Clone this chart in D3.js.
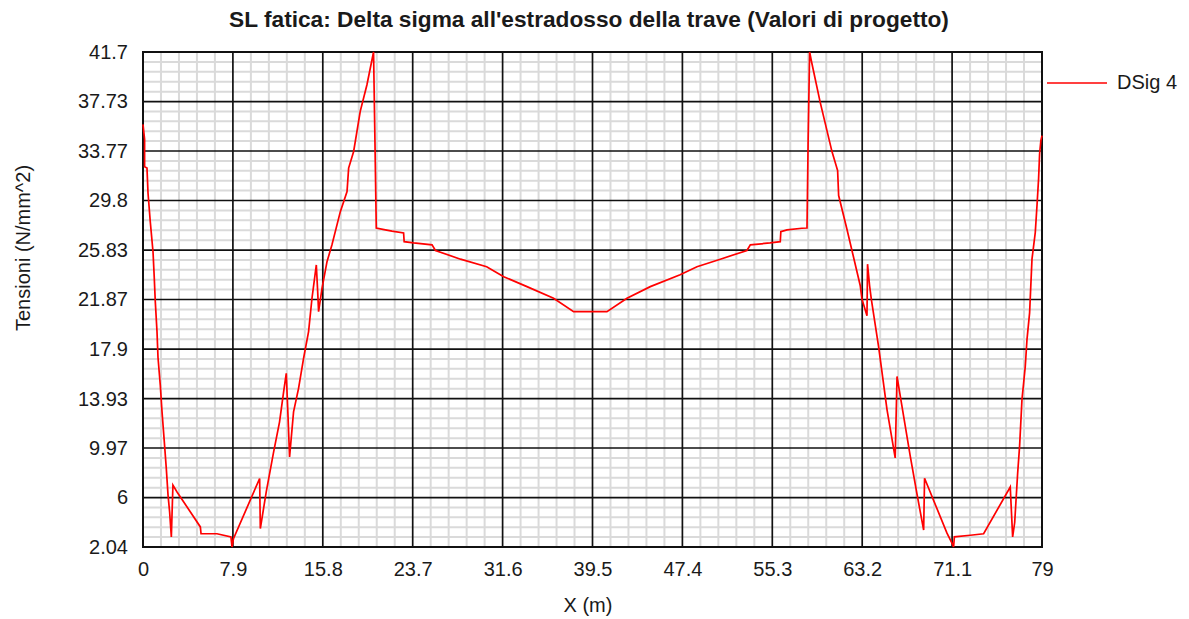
<!DOCTYPE html>
<html>
<head>
<meta charset="utf-8">
<script src="https://cdn.jsdelivr.net/npm/d3@7"></script>
<style>
  body { margin: 0; background: #fff; }
  text { font-family: "Liberation Sans", Arial, sans-serif; fill: #1a1a1a; }
</style>
</head>
<body>
<div id="chart"></div>
<script>
// values
var xTicks = [0, 7.9, 15.8, 23.7, 31.6, 39.5, 47.4, 55.3, 63.2, 71.1, 79];
var yTicks = [2.04, 6, 9.97, 13.93, 17.9, 21.87, 25.83, 29.8, 33.77, 37.73, 41.7];

var xPos = [0, 0.14, 0.14, 0.35, 0.44, 0.64, 0.88, 0.99, 1.08, 1.23, 1.32, 1.52, 1.67, 1.87, 2.05, 2.2, 2.34, 2.49,
  2.63, 2.99, 5.04, 5.1, 6.5, 7.73, 7.82, 7.95, 10.25, 10.31, 10.83, 11.48, 12.0, 12.36, 12.59, 12.74, 12.88,
  13.23, 13.67, 14.11, 14.55, 14.85, 15.23, 15.35, 15.43, 15.73, 16.17, 16.6, 17.34, 17.93, 18.07, 18.51, 19.09,
  19.68, 20.26, 20.38, 20.5, 21.3, 21.88, 22.9, 22.95, 23.78, 25.4, 25.7, 27.9, 30.2, 31.7, 33.74, 36.08, 37.84,
  40.77, 42.53, 44.58, 47.2, 48.68, 50.73, 53.07, 53.37, 55.1, 56.0, 56.05, 56.59, 57.9, 58.35, 58.45, 58.58,
  58.73, 59.5, 60.55, 61.04, 61.13, 61.86, 62.3, 63.03, 63.18, 63.62, 63.67, 63.85, 64.0, 64.64, 65.38, 66.1,
  66.26, 66.55, 67.43, 68.0, 68.6, 68.68, 70.65, 71.09, 71.23, 71.3, 72.7, 73.87, 76.21, 76.42, 76.6, 76.86,
  77.03, 77.24, 77.53, 77.68, 77.91, 78.12, 78.41, 78.56, 78.7, 78.79, 78.9, 79];
var dsig4 = [35.9, 34.7, 32.5, 32.4, 30.4, 28.1, 25.7, 23.6, 21.7, 19.3, 17.2, 15.0, 12.9, 10.5, 8.3, 6.2, 4.85, 2.85,
  7.0, 6.45, 3.65, 3.1, 3.1, 2.85, 2.04, 2.7, 7.53, 3.52, 6.45, 9.66, 12.07, 14.48, 15.95, 12.6, 9.26,
  12.87, 14.75, 17.15, 19.3, 21.97, 24.64, 22.5, 20.9, 22.77, 24.9, 26.24, 28.91, 30.52, 32.4, 33.73, 36.94,
  39.08, 41.7, 34.7, 27.6, 27.45, 27.35, 27.2, 26.5, 26.4, 26.25, 25.8, 25.1, 24.5, 23.7, 22.9, 21.97, 20.9,
  20.9, 21.97, 22.9, 23.85, 24.5, 25.1, 25.8, 26.25, 26.4, 26.5, 27.3, 27.45, 27.58, 27.6, 34.67, 41.7,
  41.0, 37.7, 33.7, 32.2, 30.2, 27.5, 25.8, 22.97, 21.9, 20.57, 24.7, 22.97, 21.9, 18.1, 13.05, 9.18,
  15.7, 14.1, 9.28, 6.35, 3.4, 7.55, 3.15, 2.35, 2.04, 2.85, 2.98, 3.1, 6.85, 2.85, 4.0, 7.95,
  10.1, 13.86, 16.5, 18.66, 20.8, 25.1, 27.25, 29.4, 31.55, 33.55, 34.6, 35.0];

var W = 1189, H = 619;
var margin = {top: 52, right: 147, bottom: 72, left: 143};
var width = W - margin.left - margin.right,
    height = H - margin.top - margin.bottom;

var svg = d3.select("#chart").append("svg")
  .attr("width", W)
  .attr("height", H);

var g = svg.append("g")
  .attr("transform", "translate(" + margin.left + "," + margin.top + ")");

var x = d3.scaleLinear().domain([0, 79]).range([0, width]);
var y = d3.scaleLinear().domain([2.04, 41.7]).range([height, 0]);

// minor grid: 5 subdivisions between major ticks
var minorX = [], minorY = [];
for (var i = 0; i < xTicks.length - 1; i++)
  for (var k = 1; k < 5; k++) minorX.push(xTicks[i] + (xTicks[i + 1] - xTicks[i]) * k / 5);
for (var j = 0; j < yTicks.length - 1; j++)
  for (var m = 1; m < 5; m++) minorY.push(yTicks[j] + (yTicks[j + 1] - yTicks[j]) * m / 5);

g.selectAll(".minx").data(minorX).enter().append("line")
  .attr("x1", d => x(d)).attr("x2", d => x(d))
  .attr("y1", 0).attr("y2", height)
  .style("stroke", "#dadada").style("stroke-width", 2);
g.selectAll(".miny").data(minorY).enter().append("line")
  .attr("x1", 0).attr("x2", width)
  .attr("y1", d => y(d)).attr("y2", d => y(d))
  .style("stroke", "#dadada").style("stroke-width", 2);

g.selectAll(".majx").data(xTicks).enter().append("line")
  .attr("x1", d => x(d)).attr("x2", d => x(d))
  .attr("y1", 0).attr("y2", height)
  .style("stroke", "#111").style("stroke-width", 1.7);
g.selectAll(".majy").data(yTicks).enter().append("line")
  .attr("x1", 0).attr("x2", width)
  .attr("y1", d => y(d)).attr("y2", d => y(d))
  .style("stroke", "#111").style("stroke-width", 1.7);

g.append("rect")
  .attr("width", width).attr("height", height)
  .style("fill", "none").style("stroke", "#111").style("stroke-width", 2);

// axes (labels only)
var xAxis = g.append("g")
  .attr("transform", "translate(0," + height + ")")
  .call(d3.axisBottom(x).tickValues(xTicks).tickSize(0).tickPadding(15).tickFormat(d => d));
var yAxis = g.append("g")
  .call(d3.axisLeft(y).tickValues(yTicks).tickSize(0).tickPadding(15).tickFormat(d => d));
[xAxis, yAxis].forEach(function(a) {
  a.select(".domain").remove();
  a.selectAll("text").style("font-size", "20px").style("font-family", "Liberation Sans, Arial, sans-serif").attr("fill", "#1a1a1a");
});

// the series
var pts = xPos.map((d, i) => [d, dsig4[i]]);
g.append("path")
  .datum(pts)
  .attr("d", d3.line().x(d => x(d[0])).y(d => y(d[1])))
  .style("fill", "none")
  .style("stroke", "#ff0000")
  .style("stroke-width", 1.7)
  .style("stroke-linejoin", "miter");

// title and axis labels
svg.append("text")
  .attr("x", 589).attr("y", 27)
  .attr("text-anchor", "middle")
  .style("font-size", "22.7px").style("font-weight", "bold")
  .text("SL fatica: Delta sigma all'estradosso della trave (Valori di progetto)");

svg.append("text")
  .attr("x", 588).attr("y", 612)
  .attr("text-anchor", "middle")
  .style("font-size", "20px")
  .text("X (m)");

svg.append("text")
  .attr("transform", "translate(30,248) rotate(-90)")
  .attr("text-anchor", "middle")
  .style("font-size", "20px")
  .text("Tensioni (N/mm^2)");

// legend
var leg = svg.append("g").attr("transform", "translate(1047,83)");
leg.append("line").attr("x1", 0).attr("x2", 60).attr("y1", 0).attr("y2", 0)
  .style("stroke", "#ff0000").style("stroke-width", 1.7);
leg.append("text").attr("x", 70).attr("y", 6)
  .style("font-size", "20px").text("DSig 4");
</script>
</body>
</html>
